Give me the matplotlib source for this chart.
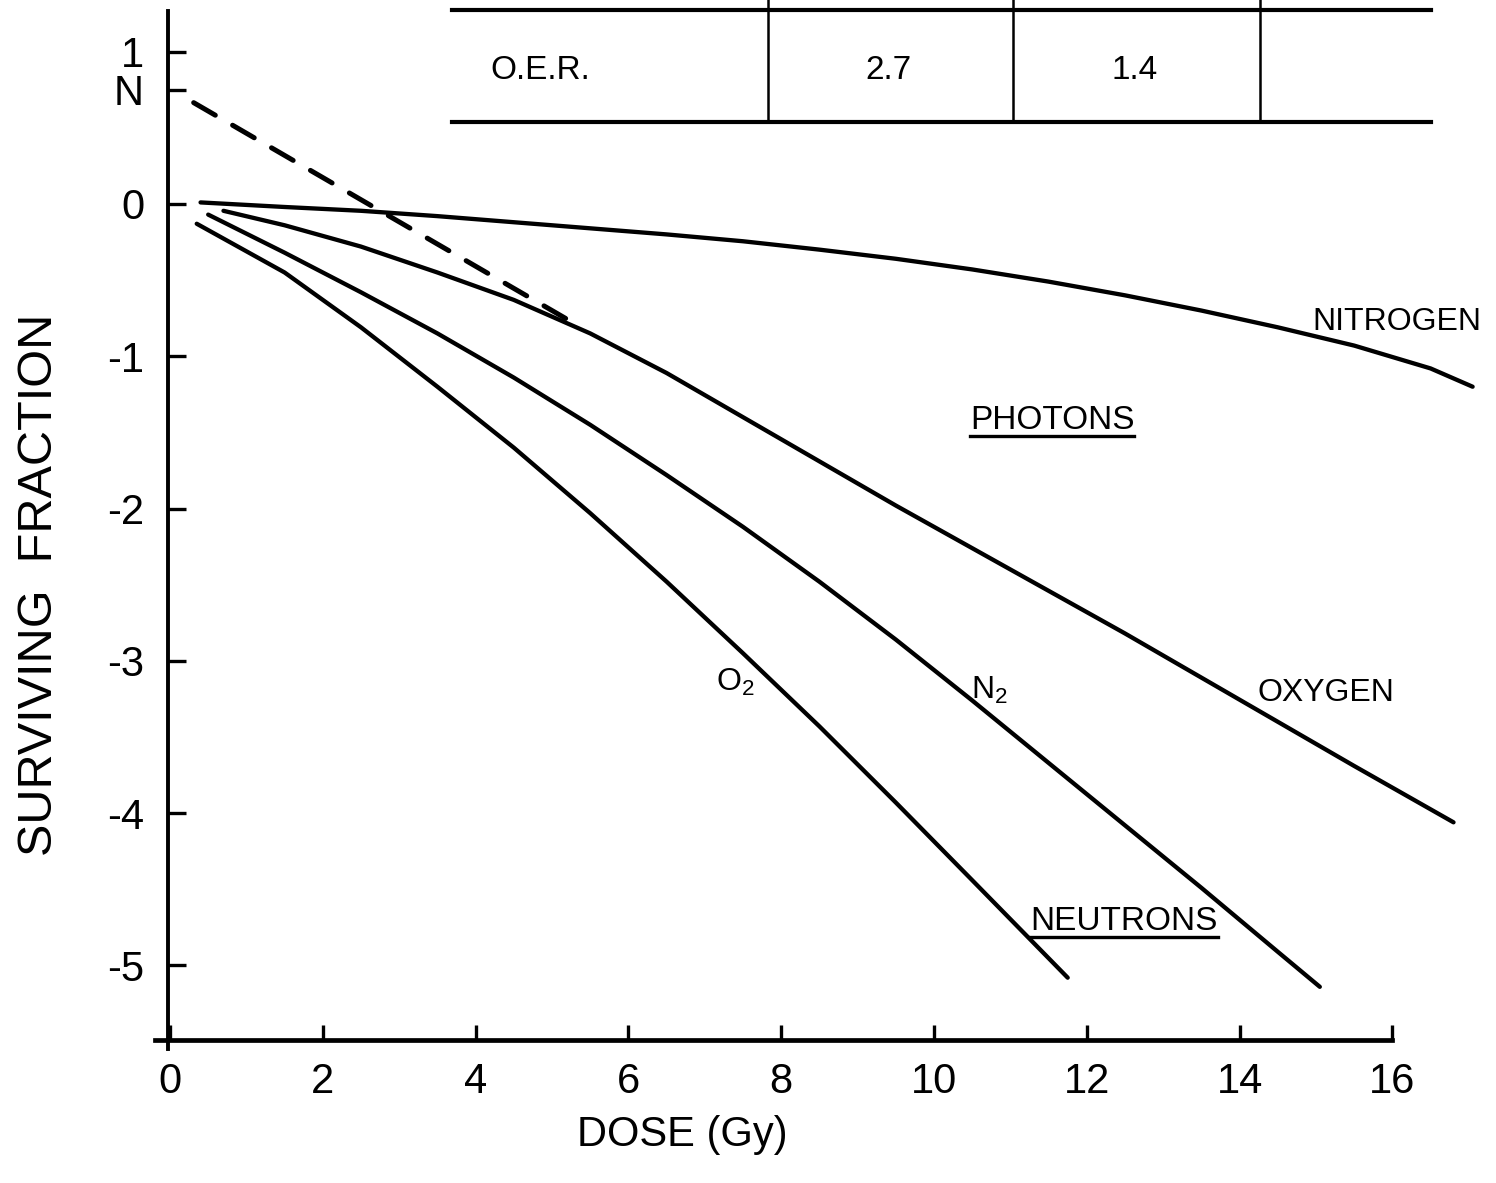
#!/usr/bin/env python

import matplotlib
matplotlib.use("Agg")
import matplotlib.pyplot as plt
from matplotlib.lines import Line2D

# log10 surviving fraction vs dose (Gy)
# photons
nitrogen_dose = [0.4, 1.5, 2.5, 3.5, 4.5, 5.5, 6.5, 7.5, 8.5, 9.5,
                 10.5, 11.5, 12.5, 13.5, 14.5, 15.5, 16.5, 17.05]
nitrogen_sf = [0.01, -0.02, -0.045, -0.08, -0.12, -0.16, -0.20, -0.245, -0.30, -0.36,
               -0.43, -0.51, -0.60, -0.70, -0.81, -0.93, -1.08, -1.20]
oxygen_dose = [0.7, 1.5, 2.5, 3.5, 4.5, 5.5, 6.5, 7.5, 8.5, 9.5,
               10.5, 11.5, 12.5, 13.5, 14.5, 15.5, 16.8]
oxygen_sf = [-0.045, -0.14, -0.28, -0.45, -0.63, -0.85, -1.11, -1.40, -1.69, -1.98,
             -2.26, -2.54, -2.82, -3.11, -3.40, -3.69, -4.06]
# neutrons
n2_dose = [0.5, 1.5, 2.5, 3.5, 4.5, 5.5, 6.5, 7.5, 8.5, 9.5,
           10.5, 11.5, 12.5, 13.5, 14.5, 15.05]
n2_sf = [-0.07, -0.32, -0.58, -0.85, -1.14, -1.45, -1.78, -2.12, -2.48, -2.86,
         -3.26, -3.67, -4.08, -4.49, -4.91, -5.14]
o2_dose = [0.35, 1.5, 2.5, 3.5, 4.5, 5.5, 6.5, 7.5, 8.5, 9.5, 10.5, 11.75]
o2_sf = [-0.13, -0.45, -0.81, -1.20, -1.60, -2.03, -2.48, -2.95, -3.43, -3.93, -4.44, -5.08]
# extrapolated back to N
extrap_dose = [0.31, 5.19]
extrap_sf = [0.665, -0.755]

xticks = [0, 2, 4, 6, 8, 10, 12, 14, 16]
xticklabels = ["0", "2", "4", "6", "8", "10", "12", "14", "16"]
yticks = [1, 0.75, 0, -1, -2, -3, -4, -5]
yticklabels = ["1", "N", "0", "-1", "-2", "-3", "-4", "-5"]

oer_row = ["O.E.R.", "2.7", "1.4", ""]

fontsize = 30
lfontsize = 23
linewidth = 3.1

plt.rcParams["font.family"] = ["Liberation Sans", "DejaVu Sans"]
plt.rcParams["mathtext.fontset"] = "custom"
plt.rcParams["mathtext.rm"] = "Liberation Sans"
plt.rcParams["axes.unicode_minus"] = False


def underline(fig, txt, offset=0):
    fig.canvas.draw()
    bb = txt.get_window_extent()
    inv = fig.transFigure.inverted()
    (x0, y0), (x1, _) = inv.transform([(bb.x0, bb.y0 - offset),
                                       (bb.x1, bb.y0 - offset)])
    fig.add_artist(Line2D([x0, x1], [y0, y0], color="black", lw=2.4))


def main():

    fig = plt.figure(figsize=(14.96, 11.83), dpi=100)
    ax = fig.add_axes([0, 0, 1, 1])
    ax.patch.set_visible(False)
    ax.set_xlim(-2.225, 17.356)
    ax.set_ylim(-6.428, 1.339)

    style = dict(color="black", lw=linewidth, solid_capstyle="round",
                 solid_joinstyle="round")
    ax.plot(nitrogen_dose, nitrogen_sf, **style)
    ax.plot(oxygen_dose, oxygen_sf, **style)
    ax.plot(n2_dose, n2_sf, **style)
    ax.plot(o2_dose, o2_sf, **style)
    ax.plot(extrap_dose, extrap_sf, color="black", lw=3.6, dashes=(5, 4),
            dash_capstyle="round")

    # axes drawn like the hand-lettered original
    for s in ["top", "right"]:
        ax.spines[s].set_visible(False)
    ax.spines["left"].set_position(("data", -0.03))
    ax.spines["left"].set_bounds(-5.55, 1.27)
    ax.spines["left"].set_linewidth(2.8)
    ax.spines["bottom"].set_position(("data", -5.49))
    ax.spines["bottom"].set_bounds(-0.2, 16)
    ax.spines["bottom"].set_linewidth(3.4)

    ax.set_xticks(xticks)
    ax.set_xticklabels(xticklabels)
    ax.set_yticks(yticks)
    ax.set_yticklabels(yticklabels)
    ax.tick_params(axis="x", direction="in", length=11, width=2.4,
                   pad=16, labelsize=fontsize)
    ax.tick_params(axis="y", direction="in", length=13, width=2.4,
                   pad=17, labelsize=fontsize)

    fig.text(0.0267, 0.5055, "SURVIVING  FRACTION", rotation=90,
             ha="center", va="center", fontsize=35)
    fig.text(0.456, 0.0406, "DOSE (Gy)", ha="center", va="center",
             fontsize=30)

    # curve labels
    ax.text(14.95, -0.775, "NITROGEN", fontsize=lfontsize, va="center")
    ax.text(14.24, -3.21, "OXYGEN", fontsize=lfontsize, va="center")
    ax.text(7.4, -3.14, r"O$_\mathregular{2}$", fontsize=lfontsize,
            ha="center", va="center")
    ax.text(10.73, -3.19, r"N$_\mathregular{2}$", fontsize=lfontsize,
            ha="center", va="center")
    photons = ax.text(10.47, -1.42, "PHOTONS", fontsize=24, va="center")
    neutrons = ax.text(11.26, -4.71, "NEUTRONS", fontsize=24, va="center")

    # O.E.R. table at the top
    tx0, tx1 = 0.302, 0.9566
    ty0, ty1 = 0.8969, 0.9915
    for y in (ty0, ty1):
        fig.add_artist(Line2D([tx0, tx1], [y, y], color="black", lw=3))
    cols = [0.5134, 0.6771, 0.8422]
    for x in cols:
        fig.add_artist(Line2D([x, x], [ty0, 1.0], color="black", lw=1.8))
    centers = [0.361, 0.5936, 0.7587, 0.90]
    for x, label in zip(centers, oer_row):
        fig.text(x, 0.9408, label, ha="center", va="center", fontsize=24)

    underline(fig, photons)
    underline(fig, neutrons)

    fig.savefig("out.png", dpi=100)


if __name__ == "__main__":
    main()
